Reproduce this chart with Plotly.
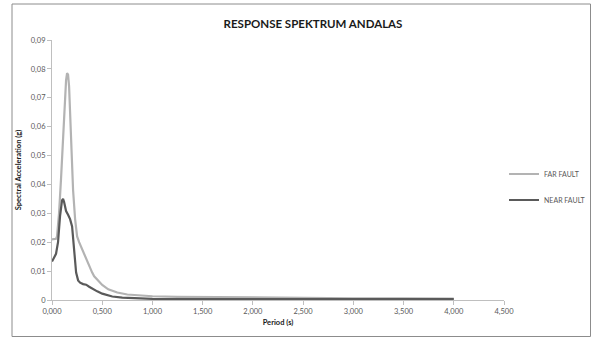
import plotly.graph_objects as go

# Far fault spectrum
far_period = [0.00, 0.02, 0.04, 0.05, 0.07, 0.09, 0.11, 0.13, 0.14, 0.15, 0.16, 0.17, 0.19,
              0.21, 0.23, 0.25, 0.27, 0.29, 0.32, 0.36, 0.40, 0.42, 0.46, 0.50, 0.56, 0.65,
              0.75, 0.90, 1.00, 1.25, 1.50, 2.00, 2.50, 3.00, 3.50, 4.00]
far_sa = [0.0210, 0.0210, 0.0212, 0.0220, 0.0300, 0.0420, 0.0560, 0.0700, 0.0760, 0.0785,
          0.0780, 0.0740, 0.0530, 0.0380, 0.0280, 0.0220, 0.0200, 0.0184, 0.0155, 0.0127,
          0.0095, 0.0082, 0.0068, 0.0052, 0.0037, 0.0026, 0.0019, 0.0015, 0.0013, 0.0011,
          0.0010, 0.0008, 0.0007, 0.0006, 0.0006, 0.0005]

# Near fault spectrum
near_period = [0.00, 0.02, 0.04, 0.06, 0.08, 0.10, 0.11, 0.12, 0.14, 0.16, 0.18, 0.20, 0.22,
               0.24, 0.26, 0.28, 0.31, 0.34, 0.37, 0.40, 0.45, 0.50, 0.55, 0.60, 0.70, 0.80,
               1.00, 1.50, 2.00, 3.00, 4.00]
near_sa = [0.0133, 0.0145, 0.0160, 0.0200, 0.0290, 0.0345, 0.0350, 0.0340, 0.0308, 0.0295,
           0.0280, 0.0255, 0.0170, 0.0095, 0.0068, 0.0060, 0.0055, 0.0053, 0.0046, 0.0039,
           0.0030, 0.0022, 0.0016, 0.0012, 0.0008, 0.0006, 0.0004, 0.0003, 0.0003, 0.0003,
           0.0003]

y_tickvals = [0, 0.01, 0.02, 0.03, 0.04, 0.05, 0.06, 0.07, 0.08, 0.09]
y_ticktext = ["0", "0,01", "0,02", "0,03", "0,04", "0,05", "0,06", "0,07", "0,08", "0,09"]
x_tickvals = [0, 0.5, 1.0, 1.5, 2.0, 2.5, 3.0, 3.5, 4.0, 4.5]
x_ticktext = ["0,000", "0,500", "1,000", "1,500", "2,000", "2,500", "3,000", "3,500",
              "4,000", "4,500"]

FONT = "Lato"
W, H = 592, 338
L, T = 52, 40
R = W - 504
B = H - 300
pw, ph = W - L - R, H - T - B

def px_x(px):
    return (px - L) / pw

def px_y(py):
    return (H - B - py) / ph

fig = go.Figure()
fig.add_trace(go.Scatter(x=far_period, y=far_sa, mode="lines", name="FAR FAULT",
                         legendgroup="a",
                         line=dict(color="#b3b3b3", width=2.2)))
fig.add_trace(go.Scatter(x=near_period, y=near_sa, mode="lines", name="NEAR FAULT",
                         legendgroup="b",
                         line=dict(color="#5a5a5a", width=2.2)))

fig.update_layout(
    width=W, height=H,
    margin=dict(l=L, r=R, t=T, b=B, autoexpand=False),
    paper_bgcolor="white", plot_bgcolor="white",
    font=dict(family=FONT, color="#595959", size=8),
    title=dict(text="<b>RESPONSE SPEKTRUM ANDALAS</b>", x=313 / W, xanchor="center",
               y=1 - 24 / H, yanchor="middle",
               font=dict(family=FONT, size=11.5, color="#1a1a1a")),
    showlegend=True,
    legend=dict(x=px_x(504), xanchor="left", y=px_y(187), yanchor="middle",
                font=dict(family=FONT, size=7, color="#595959"),
                tracegroupgap=7, itemwidth=30, bgcolor="rgba(0,0,0,0)"),
    xaxis=dict(range=[0, 4.5], tickvals=x_tickvals, ticktext=x_ticktext,
               showgrid=False, zeroline=False, showline=True, linecolor="#bfbfbf",
               linewidth=1, ticks="outside", ticklen=4, tickcolor="#bfbfbf",
               tickfont=dict(size=7.5, color="#595959"),
               title=dict(text="<b>Period (s)</b>", standoff=4,
                          font=dict(size=7.5, color="#1a1a1a"))),
    yaxis=dict(range=[0, 0.09], tickvals=y_tickvals, ticktext=y_ticktext,
               showgrid=False, zeroline=False, showline=True, linecolor="#bfbfbf",
               linewidth=1, ticks="outside", ticklen=4, tickcolor="#bfbfbf",
               tickfont=dict(size=7.5, color="#595959"),
               title=dict(text="<b>Spectral Acceleration (g)</b>", standoff=8,
                          font=dict(size=7.5, color="#1a1a1a"))),
    shapes=[dict(type="rect", xref="paper", yref="paper",
                 x0=px_x(12), x1=px_x(590.5), y0=px_y(336.5), y1=px_y(4),
                 line=dict(color="#8c8c8c", width=1), fillcolor="rgba(0,0,0,0)",
                 layer="below")],
)

fig.write_html("out.html",
               config={"displayModeBar": False},
               post_script="document.body.style.margin='0';"
                           "document.body.style.overflow='hidden';")
